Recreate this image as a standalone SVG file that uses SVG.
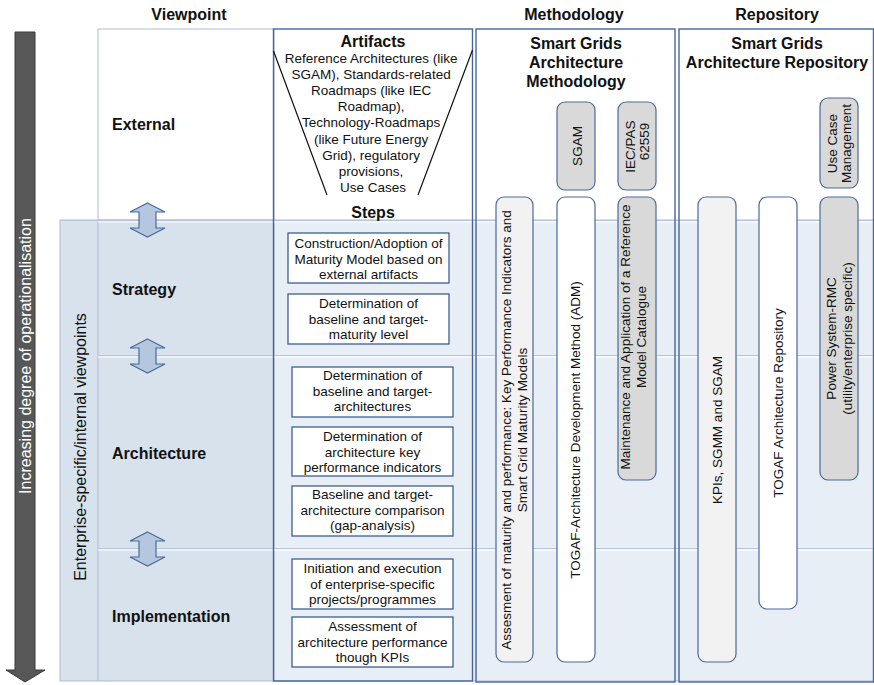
<svg xmlns="http://www.w3.org/2000/svg" width="874" height="685" viewBox="0 0 874 685">
<style>
text{font-family:"Liberation Sans",Arial,sans-serif;fill:#111}
.r{font-size:13.5px}
.h{font-size:16px;font-weight:bold}
.m{text-anchor:middle}
.step{fill:#fff;stroke:#3e5f90;stroke-width:1.3}
.pill{stroke:#4a6a9a;stroke-width:1.2}
.g{fill:#d9d9d9}
.l{fill:#f2f2f2}
.w{fill:#fff}
.col{fill:none;stroke:#46669a;stroke-width:1.4}
.div{stroke:#b7c6da;stroke-width:1}
.divw{stroke:#ffffff;stroke-width:1}
</style>
<defs>
<path id="dbl" d="M0,-17 L17.5,-8 L8.5,-8 L8.5,8 L17.5,8 L0,17 L-17.5,8 L-8.5,8 L-8.5,-8 L-17.5,-8 Z" fill="#b4c7de" stroke="#4a6a9a" stroke-width="1.2"/>
</defs>
<rect width="874" height="685" fill="#fff"/>

<!-- headers -->
<g id="headers">
<text class="h m" x="189" y="20">Viewpoint</text>
<text class="h m" x="574" y="20">Methodology</text>
<text class="h m" x="777" y="20">Repository</text>
</g>

<!-- operationalisation arrow -->
<g id="operationalisation">
<path d="M15,32 L35,32 L35,670 L45,670 L25,682 L6,670 L15,670 Z" fill="#575757" stroke="#3a3a3a" stroke-width="1"/>
<text class="m" transform="translate(31,356) rotate(-90)" style="font-size:16px;fill:#fff">Increasing degree of operationalisation</text>
</g>

<!-- background regions -->
<g id="regions">
<rect x="98" y="29" width="176" height="191" fill="#fff" stroke="#aabbd4" stroke-width="1"/>
<rect x="60" y="220" width="214" height="461" fill="#d8e2ed" stroke="#a9bbd3" stroke-width="1"/>
<rect x="274" y="220" width="600" height="461" fill="#e8eef6" stroke="#a9bbd3" stroke-width="1"/>
<line x1="98" y1="220" x2="98" y2="681" stroke="#a9bbd3" stroke-width="1"/>
<line class="div" x1="60" y1="220.5" x2="874" y2="220.5"/>
<line class="divw" x1="98" y1="222" x2="874" y2="222"/>
<line class="div" x1="98" y1="355.5" x2="874" y2="355.5"/>
<line class="divw" x1="98" y1="357" x2="874" y2="357"/>
<line class="div" x1="98" y1="548.5" x2="874" y2="548.5"/>
<line class="divw" x1="98" y1="550" x2="874" y2="550"/>
<text class="m" transform="translate(86,447) rotate(-90)" style="font-size:16px">Enterprise-specific/internal viewpoints</text>
</g>

<!-- viewpoint labels -->
<g id="viewpoint-external"><text class="h" x="112" y="130">External</text></g>
<g id="viewpoint-strategy"><text class="h" x="112" y="295">Strategy</text></g>
<g id="viewpoint-architecture"><text class="h" x="112" y="459">Architecture</text></g>
<g id="viewpoint-implementation"><text class="h" x="112" y="622">Implementation</text></g>

<!-- column frames -->
<g id="steps-column">
<rect class="col" x="273.5" y="29" width="199" height="652"/>
<path d="M273.5,51 L327,195 M472.5,50 L418,195" stroke="#111" stroke-width="1.2" fill="none"/>
<text class="h m" x="373" y="47">Artifacts</text>
<text class="r m">
<tspan x="373" y="63">Reference Architectures (like</tspan>
<tspan x="373" y="79.1">SGAM), Standards-related</tspan>
<tspan x="373" y="95.2">Roadmaps (like IEC</tspan>
<tspan x="373" y="111.3">Roadmap),</tspan>
<tspan x="373" y="127.4">Technology-Roadmaps</tspan>
<tspan x="373" y="143.5">(like Future Energy</tspan>
<tspan x="373" y="159.6">Grid), regulatory</tspan>
<tspan x="373" y="175.7">provisions,</tspan>
<tspan x="373" y="191.8">Use Cases</tspan>
</text>
<text class="h m" x="373" y="218">Steps</text>
</g>
<g id="methodology-column">
<rect class="col" x="476" y="29" width="199" height="653"/>
<text class="h m"><tspan x="576" y="49">Smart Grids</tspan><tspan x="576" y="68">Architecture</tspan><tspan x="576" y="87">Methodology</tspan></text>
</g>
<g id="repository-column">
<rect class="col" x="679" y="29" width="194.5" height="653"/>
<text class="h m"><tspan x="777" y="49">Smart Grids</tspan><tspan x="777" y="68">Architecture Repository</tspan></text>
</g>

<!-- connectors (double arrows) -->
<g id="connectors">
<use href="#dbl" x="147.5" y="220"/>
<use href="#dbl" x="147.5" y="356"/>
<use href="#dbl" x="147.5" y="549"/>
</g>

<!-- step boxes -->
<g id="step1"><rect class="step" x="288" y="233" width="161" height="50"/>
<text class="r m"><tspan x="368.5" y="248">Construction/Adoption of</tspan><tspan x="368.5" y="263.5">Maturity Model based on</tspan><tspan x="368.5" y="279">external artifacts</tspan></text></g>
<g id="step2"><rect class="step" x="288" y="294" width="161" height="50"/>
<text class="r m"><tspan x="368.5" y="308">Determination of</tspan><tspan x="368.5" y="323.5">baseline and target-</tspan><tspan x="368.5" y="339">maturity level</tspan></text></g>
<g id="step3"><rect class="step" x="292" y="367" width="161" height="50"/>
<text class="r m"><tspan x="372.5" y="380">Determination of</tspan><tspan x="372.5" y="395.5">baseline and target-</tspan><tspan x="372.5" y="411">architectures</tspan></text></g>
<g id="step4"><rect class="step" x="292" y="427" width="161" height="49"/>
<text class="r m"><tspan x="372.5" y="441">Determination of</tspan><tspan x="372.5" y="456.5">architecture key</tspan><tspan x="372.5" y="472">performance indicators</tspan></text></g>
<g id="step5"><rect class="step" x="292" y="486" width="161" height="50"/>
<text class="r m"><tspan x="372.5" y="499">Baseline and target-</tspan><tspan x="372.5" y="514.5">architecture comparison</tspan><tspan x="372.5" y="530">(gap-analysis)</tspan></text></g>
<g id="step6"><rect class="step" x="292" y="559" width="161" height="50"/>
<text class="r m"><tspan x="372.5" y="573">Initiation and execution</tspan><tspan x="372.5" y="588.5">of enterprise-specific</tspan><tspan x="372.5" y="604">projects/programmes</tspan></text></g>
<g id="step7"><rect class="step" x="292" y="617" width="161" height="50"/>
<text class="r m"><tspan x="372.5" y="631">Assessment of</tspan><tspan x="372.5" y="646.5">architecture performance</tspan><tspan x="372.5" y="662">though KPIs</tspan></text></g>

<!-- methodology pills -->
<g id="sgam"><rect class="pill g" x="557" y="102" width="38" height="88" rx="8"/>
<text class="r m" transform="translate(582,146) rotate(-90)">SGAM</text></g>
<g id="iec-pas"><rect class="pill g" x="618" y="102" width="38" height="88" rx="8"/>
<text class="r m" transform="translate(635,146.5) rotate(-90)">IEC/PAS</text>
<text class="r m" transform="translate(649,141.5) rotate(-90)">62559</text></g>
<g id="assessment"><rect class="pill l" x="496" y="197" width="37" height="465" rx="8"/>
<text class="r m" transform="translate(511,430) rotate(-90)"><tspan x="0" y="0">Assesment of maturity and performance: Key Performance Indicators and</tspan><tspan x="0" y="16">Smart Grid Maturity Models</tspan></text></g>
<g id="togaf-adm"><rect class="pill w" x="557" y="197" width="38" height="465" rx="8"/>
<text class="r m" transform="translate(580,430) rotate(-90)">TOGAF-Architecture Development Method (ADM)</text></g>
<g id="maintenance"><rect class="pill g" x="618" y="197" width="38" height="283" rx="8"/>
<text class="r m" transform="translate(630,337) rotate(-90)"><tspan x="0" y="0">Maintenance and Application of a Reference</tspan><tspan x="0" y="16">Model Catalogue</tspan></text></g>

<!-- repository pills -->
<g id="use-case-management"><rect class="pill g" x="820" y="98" width="38" height="90" rx="8"/>
<text class="r m" transform="translate(837,143.5) rotate(-90)"><tspan x="0" y="0">Use Case</tspan><tspan x="0" y="13.5">Management</tspan></text></g>
<g id="kpis"><rect class="pill l" x="698" y="197" width="38" height="465" rx="8"/>
<text class="r m" transform="translate(722,430) rotate(-90)">KPIs, SGMM and SGAM</text></g>
<g id="togaf-repository"><rect class="pill w" x="759" y="197" width="38" height="412" rx="8"/>
<text class="r m" transform="translate(783,403) rotate(-90)">TOGAF Architecture Repository</text></g>
<g id="power-system-rmc"><rect class="pill g" x="820" y="197" width="38" height="283" rx="8"/>
<text class="r m" transform="translate(836,338.5) rotate(-90)"><tspan x="0" y="0">Power System-RMC</tspan><tspan x="0" y="16">(utility/enterprise specific)</tspan></text></g>
</svg>
